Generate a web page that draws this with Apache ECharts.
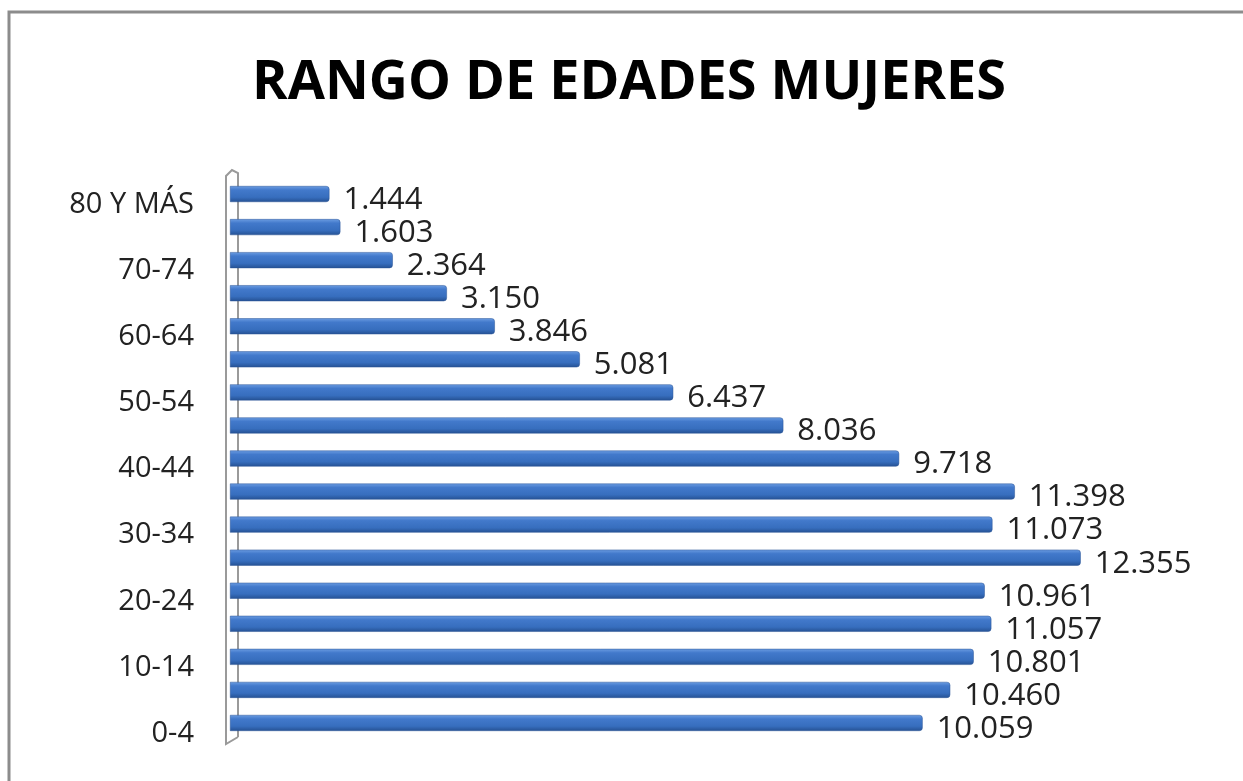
<!DOCTYPE html>
<html>
<head>
<meta charset="utf-8">
<script src="https://cdn.jsdelivr.net/npm/echarts@6/dist/echarts.min.js"></script>
<style>
  html, body { margin: 0; padding: 0; background: #fff; }
  #chart { width: 1243px; height: 781px; }
</style>
</head>
<body>
<div id="chart"></div>
<script>
// grupos de edad (de abajo hacia arriba)
const categories = [
  '0-4', '5-9', '10-14', '15-19', '20-24', '25-29', '30-34', '35-39',
  '40-44', '45-49', '50-54', '55-59', '60-64', '65-69', '70-74', '75-79', '80 Y MÁS'
];
// mujeres por grupo
const values = [
  10.059, 10.460, 10.801, 11.057, 10.961, 12.355, 11.073, 11.398,
  9.718, 8.036, 6.437, 5.081, 3.846, 3.150, 2.364, 1.603, 1.444
];
const titleText = 'RANGO DE EDADES MUJERES';

const chart = echarts.init(document.getElementById('chart'));

chart.setOption({
  backgroundColor: '#fff',
  animation: false,
  title: {
    text: titleText,
    left: 247,
    top: 52,
    textStyle: {
      fontFamily: 'Open Sans',
      fontWeight: 'bold',
      fontSize: 54,
      color: '#000',
    },
  },
  graphic: [
    {
      // marco del gráfico
      type: 'rect',
      shape: { x: 9, y: 12, width: 1400, height: 900 },
      style: { fill: 'none', stroke: '#8c8c8c', lineWidth: 3 },
      silent: true,
    },
    {
      // pared 3D del eje
      type: 'polyline',
      shape: {
        points: [[238, 737], [238, 173], [232, 170], [226, 176], [226, 744], [238, 737]],
      },
      style: { fill: 'none', stroke: '#9a9a9a', lineWidth: 2 },
      silent: true,
      z: 0,
    },
  ],
  grid: {
    left: 230,
    right: 49,
    top: 177.5,
    bottom: 41.5,
    containLabel: false,
  },
  xAxis: {
    type: 'value',
    min: 0,
    max: 14,
    show: false,
  },
  yAxis: {
    type: 'category',
    data: categories,
    axisLine: { show: false },
    axisTick: { show: false },
    axisLabel: {
      interval: 1,
      margin: 36,
      verticalAlign: 'top',
      lineHeight: 21,
      fontFamily: 'Open Sans',
      fontSize: 29,
      color: '#222',
    },
  },
  series: [
    {
      type: 'bar',
      data: values,
      barWidth: 16,
      z: 3,
      itemStyle: {
        color: new echarts.graphic.LinearGradient(0, 0, 0, 1, [
          { offset: 0, color: '#6c9de2' },
          { offset: 0.25, color: '#4279cb' },
          { offset: 0.7, color: '#376ebe' },
          { offset: 1, color: '#255193' },
        ]),
        borderRadius: [0, 3, 3, 0],
        borderColor: '#2a5596',
        borderWidth: 0.5,
      },
      label: {
        show: true,
        position: 'right',
        distance: 14,
        offset: [0, 6],
        fontFamily: 'Open Sans',
        fontSize: 31,
        color: '#222',
        formatter: p => p.value.toFixed(3),
      },
    },
  ],
});
</script>
</body>
</html>
